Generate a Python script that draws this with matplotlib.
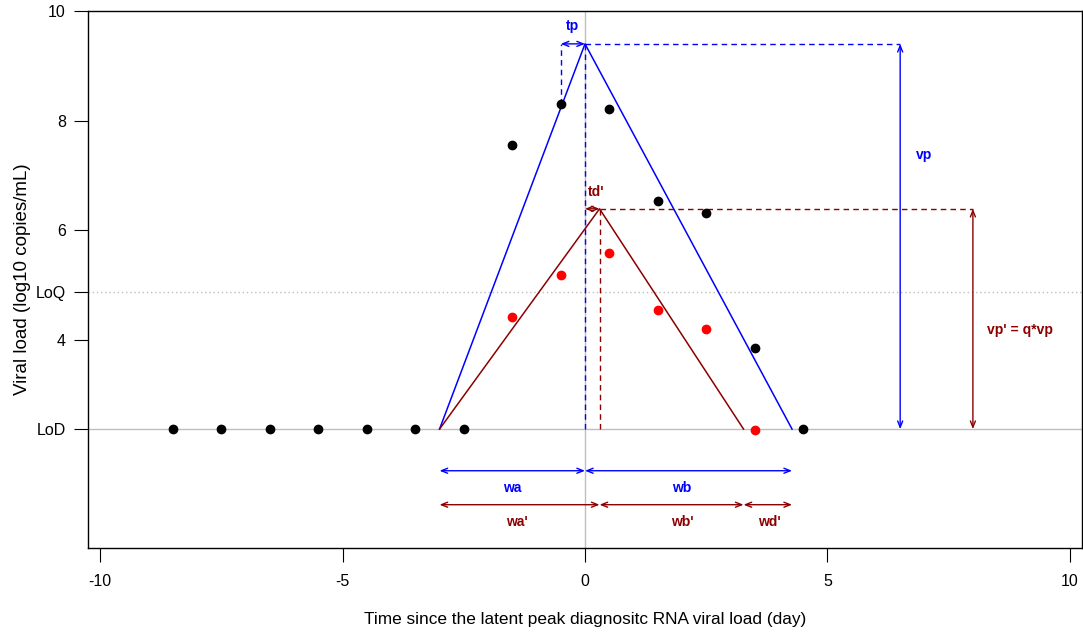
import matplotlib
matplotlib.use('Agg')
import matplotlib.pyplot as plt

plt.rcParams['font.family'] = ['Liberation Sans', 'DejaVu Sans']

LoD = 2.37
LoQ = 4.88

# observed viral loads
t_obs = [-8.5, -7.5, -6.5, -5.5, -4.5, -3.5, -2.5, -1.5, -0.5, 0.5, 1.5, 2.5, 3.5, 4.5]
v_obs = [LoD, LoD, LoD, LoD, LoD, LoD, LoD, 7.55, 8.31, 8.21, 6.53, 6.32, 3.85, LoD]
t_red = [-1.5, -0.5, 0.5, 1.5, 2.5, 3.5]
v_red = [4.42, 5.18, 5.58, 4.54, 4.20, 2.35]

# triangle models
tri_t = [-3.0, 0.0, 4.27]
tri_v = [LoD, 9.40, LoD]
tri2_t = [-3.0, 0.3, 3.27]
tri2_v = [LoD, 6.39, LoD]

yticks = [LoD, 4, LoQ, 6, 8, 10]
ylabels = ['LoD', '4', 'LoQ', '6', '8', '10']
xticks = [-10, -5, 0, 5, 10]

blue = '#0000FF'
dred = '#8B0000'

fig = plt.figure(figsize=(10.83, 6.37), dpi=100)
ax = fig.add_axes([88/1083, 1 - 548/637, (1082 - 88)/1083, (548 - 11)/637])
ax.set_xlim(-10.25, 10.25)
ax.set_ylim(0.2, 10)

# reference lines
ax.axvline(0, color='#BEBEBE', lw=1, zorder=1)
ax.axhline(LoD, color='#BEBEBE', lw=1, zorder=1)
ax.axhline(LoQ, color='#BEBEBE', lw=1, ls=(0, (1, 2)), zorder=1)

# model lines
ax.plot(tri_t, tri_v, color=blue, lw=1.1)
ax.plot(tri2_t, tri2_v, color=dred, lw=1.1)


def arrow(x0, y0, x1, y1, c):
    ax.annotate('', xy=(x1, y1), xytext=(x0, y0),
                arrowprops=dict(arrowstyle='<->,head_length=0.45,head_width=0.18',
                                color=c, lw=1.0, shrinkA=0, shrinkB=0))


fs = 10
dash = (0, (4, 3))
# blue peak annotations
ax.plot([-0.5, -0.5], [v_obs[8], tri_v[1]], color=blue, lw=1, ls=dash)
ax.plot([0, 0], [LoD, tri_v[1]], color=blue, lw=1, ls=dash)
ax.plot([0, 6.5], [tri_v[1], tri_v[1]], color=blue, lw=1, ls=dash)
arrow(-0.5, tri_v[1], 0, tri_v[1], blue)
arrow(6.5, LoD, 6.5, tri_v[1], blue)
ax.text(-0.25, 9.72, 'tp', color=blue, fontsize=fs, fontweight='bold', ha='center', va='center')
ax.text(7.0, 7.37, 'vp', color=blue, fontsize=fs, fontweight='bold', ha='center', va='center')

# red peak annotations
ax.plot([0.3, 0.3], [LoD, tri2_v[1]], color=dred, lw=1, ls=dash)
ax.plot([0.3, 8.0], [tri2_v[1], tri2_v[1]], color=dred, lw=1, ls=dash)
arrow(0, tri2_v[1], 0.3, tri2_v[1], dred)
arrow(8.0, LoD, 8.0, tri2_v[1], dred)
ax.text(0.24, 6.69, "td'", color=dred, fontsize=fs, fontweight='bold', ha='center', va='center')
ax.text(8.97, 4.18, "vp' = q*vp", color=dred, fontsize=fs, fontweight='bold', ha='center', va='center')

# widths
arrow(-3.0, 1.61, 0, 1.61, blue)
arrow(0, 1.61, 4.27, 1.61, blue)
ax.text(-1.5, 1.30, 'wa', color=blue, fontsize=fs, fontweight='bold', ha='center', va='center')
ax.text(2.0, 1.30, 'wb', color=blue, fontsize=fs, fontweight='bold', ha='center', va='center')
arrow(-3.0, 0.99, 0.3, 0.99, dred)
arrow(0.3, 0.99, 3.27, 0.99, dred)
arrow(3.27, 0.99, 4.27, 0.99, dred)
ax.text(-1.4, 0.67, "wa'", color=dred, fontsize=fs, fontweight='bold', ha='center', va='center')
ax.text(2.0, 0.67, "wb'", color=dred, fontsize=fs, fontweight='bold', ha='center', va='center')
ax.text(3.8, 0.67, "wd'", color=dred, fontsize=fs, fontweight='bold', ha='center', va='center')

# points
ax.plot(t_obs, v_obs, 'o', color='black', ms=6, zorder=5)
ax.plot(t_red, v_red, 'o', color='red', ms=6, zorder=5)

ax.set_xticks(xticks)
ax.set_xticklabels(['-10', '-5', '0', '5', '10'])
ax.set_yticks(yticks)
ax.set_yticklabels(ylabels)
ax.tick_params('both', labelsize=11.5, length=10, width=0.8)
ax.tick_params('x', pad=9)
ax.tick_params('y', pad=6)
for s in ax.spines.values():
    s.set_linewidth(1.0)

ax.set_xlabel('Time since the latent peak diagnositc RNA viral load (day)', fontsize=12.4, labelpad=16)
ax.set_ylabel('Viral load (log10 copies/mL)', fontsize=13.5, labelpad=3)

fig.savefig('out.png', dpi=100)
